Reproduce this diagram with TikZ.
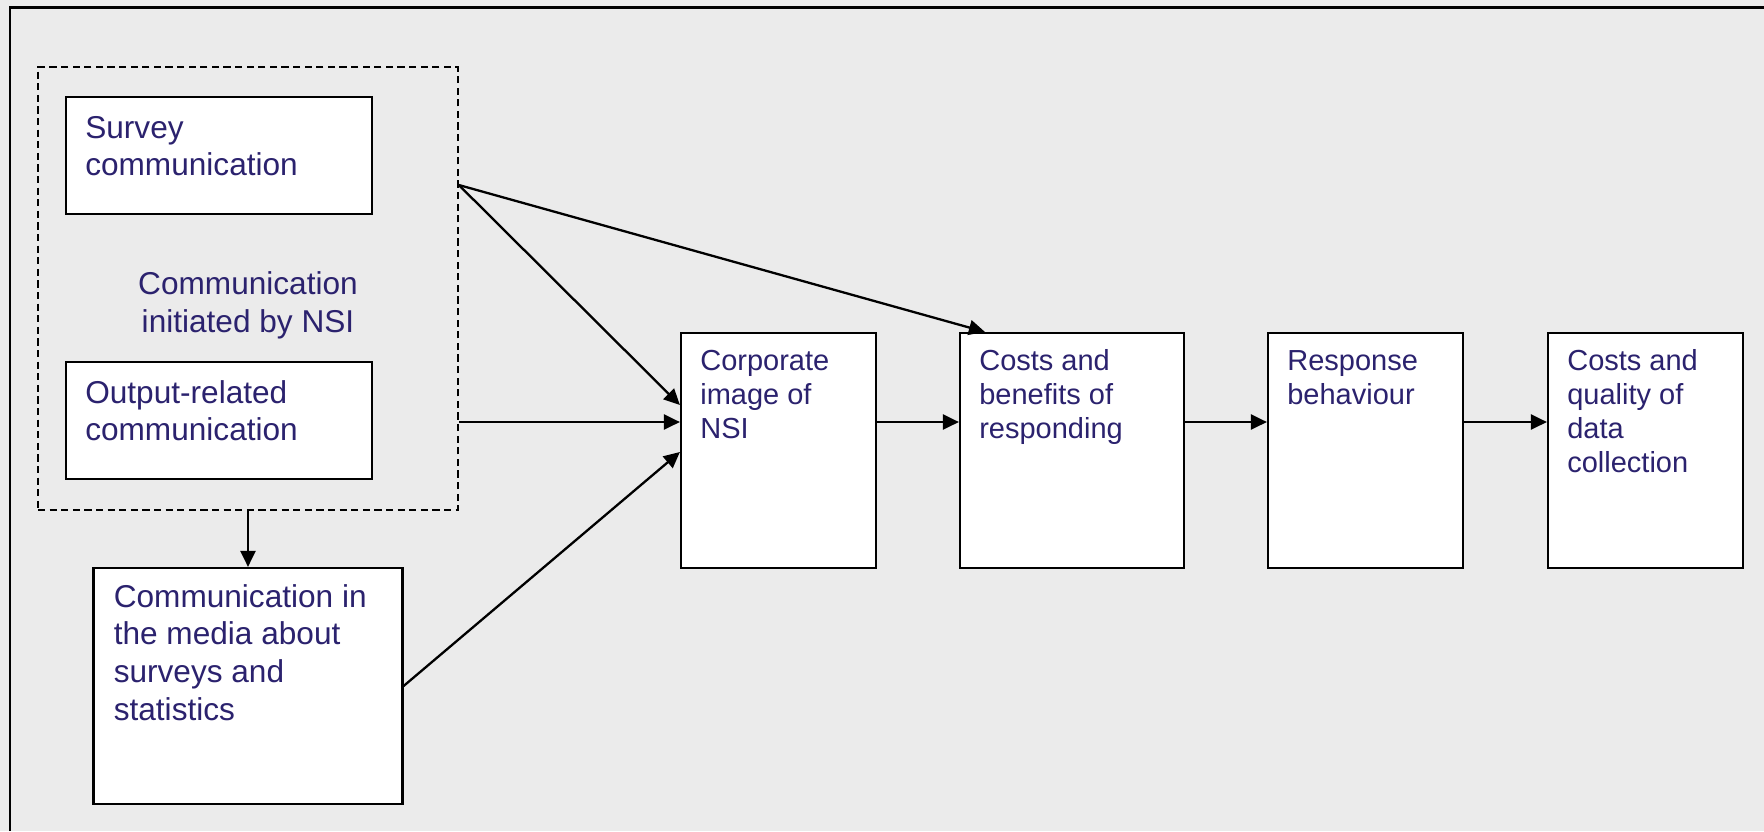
\documentclass[tikz,border=0pt]{standalone}
\usepackage{fontspec}
\setmainfont{Liberation Sans}
\usetikzlibrary{arrows.meta}
\definecolor{bg}{HTML}{EBEBEB}
\definecolor{ink}{RGB}{43,34,110}
\begin{document}
\begin{tikzpicture}[x=0.5pt,y=-0.5pt,
  box/.style={draw=black, fill=white, line width=1.1pt, inner sep=0pt},
  nsibox/.style={draw=black, line width=0.8pt, dash pattern=on 3.6pt off 2.2pt, inner sep=0pt},
  txtL/.style={text=ink, font=\fontsize{15.8}{18.8}\selectfont, align=left, inner sep=0pt, anchor=north west},
  txtR/.style={text=ink, font=\fontsize{14.5}{17}\selectfont, align=left, inner sep=0pt, anchor=north west},
  arr/.style={draw=black, line width=1.15pt, -{Triangle[length=8pt,width=7.5pt]}}]
% background and frame
\fill[bg] (0,0) rectangle (1764,831);
\useasboundingbox (0,0) rectangle (1764,831);
\draw[line width=1.1pt] (10,831) -- (10,7.5) -- (1764,7.5);

% dashed group
\node[nsibox, minimum width=210pt, minimum height=221.5pt] (nsi) at (248,288.5) {};
\node[box, minimum width=153pt, minimum height=58.5pt] (survey) at (219,155.5) {};
\node[txtL] (surveyT) at ([xshift=10pt,yshift=-8pt]survey.north west) {\rule{0pt}{13pt}Survey\\communication};
\node[box, minimum width=153pt, minimum height=58.5pt] (output) at (219,420.5) {};
\node[txtL] (outputT) at ([xshift=10pt,yshift=-8pt]output.north west) {\rule{0pt}{13pt}Output-related\\communication};
\node[txtL, align=center, anchor=north] (nsiT) at (248,268) {\rule{0pt}{13pt}Communication\\initiated by NSI};

% media box
\node[box, minimum width=154.5pt, minimum height=118pt] (media) at (248,686) {};
\node[txtL] (mediaT) at ([xshift=10.5pt,yshift=-7pt]media.north west) {\rule{0pt}{13pt}Communication in\\the media about\\surveys and\\statistics};

% chain boxes
\node[box, minimum width=97.5pt, minimum height=117.5pt] (corp) at (778.5,450.5) {};
\node[txtR] (corpT) at ([xshift=10pt,yshift=-6.2pt]corp.north west) {\rule{0pt}{13pt}Corporate\\image of\\NSI};
\node[box, minimum width=112pt, minimum height=117.5pt] (cost) at (1072,450.5) {};
\node[txtR] (costT) at ([xshift=10pt,yshift=-6.2pt]cost.north west) {\rule{0pt}{13pt}Costs and\\benefits of\\responding};
\node[box, minimum width=97.5pt, minimum height=117.5pt] (resp) at (1365.5,450.5) {};
\node[txtR] (respT) at ([xshift=10pt,yshift=-6.2pt]resp.north west) {\rule{0pt}{13pt}Response\\behaviour};
\node[box, minimum width=97.5pt, minimum height=117.5pt] (qual) at (1645.5,450.5) {};
\node[txtR] (qualT) at ([xshift=10pt,yshift=-6.2pt]qual.north west) {\rule{0pt}{13pt}Costs and\\quality of\\data\\collection};

% levels
\coordinate (hi) at (0,185);
\coordinate (row) at (0,422);
\coordinate (c1) at (0,405);
\coordinate (c2) at (0,452);

% connectors
\draw[arr] (nsi.east |- hi) -- (corp.west |- c1);
\draw[arr] (nsi.east |- hi) -- ([xshift=13pt]cost.north west);
\draw[arr] (nsi.east |- row) -- (corp.west |- row);
\draw[arr] (media.east) -- (corp.west |- c2);
\draw[arr] (nsi.south) -- (media.north);
\draw[arr] (corp.east |- row) -- (cost.west |- row);
\draw[arr] (cost.east |- row) -- (resp.west |- row);
\draw[arr] (resp.east |- row) -- (qual.west |- row);
\end{tikzpicture}
\end{document}
